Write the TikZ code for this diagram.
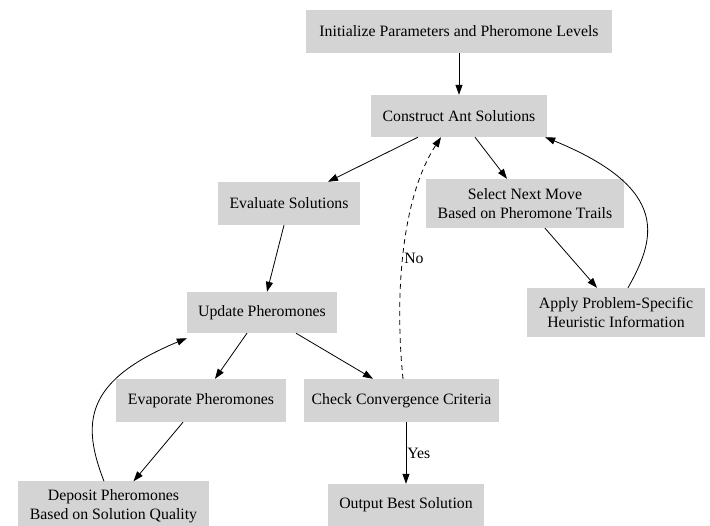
\documentclass[tikz,border=0pt]{standalone}
\usepackage{fontspec}
\setmainfont{Liberation Serif}
\usetikzlibrary{arrows.meta}
\begin{document}
\begin{tikzpicture}[x=1pt,y=-1pt,
  box/.style={fill=black!17, draw=none, inner sep=0pt, align=center,
    font=\fontsize{15.8}{19}\selectfont},
  edge/.style={draw=black, line width=0.8pt, -{Triangle[length=10pt,width=7pt]}},
  lbl/.style={font=\fontsize{15.8}{19}\selectfont, inner sep=1pt, anchor=west}]
\useasboundingbox (0,0) rectangle (710,526);
\clip (0,0) rectangle (710,526);
\node[box, minimum width=306pt, minimum height=43pt] (init) at (459,31.5) {Initialize Parameters and Pheromone Levels};
\node[box, minimum width=176pt, minimum height=42pt] (construct) at (459,116) {Construct Ant Solutions};
\node[box, minimum width=142pt, minimum height=43pt] (eval) at (289,203.5) {Evaluate Solutions};
\node[box, minimum width=198pt, minimum height=49pt] (select) at (525,203.5) {Select Next Move\\Based on Pheromone Trails};
\node[box, minimum width=178pt, minimum height=49pt] (apply) at (616,312.5) {Apply Problem-Specific\\Heuristic Information};
\node[box, minimum width=150pt, minimum height=41pt] (update) at (262,312.5) {Update Pheromones};
\node[box, minimum width=170pt, minimum height=43pt] (evap) at (201,400.5) {Evaporate Pheromones};
\node[box, minimum width=195pt, minimum height=43pt] (check) at (401.5,400.5) {Check Convergence Criteria};
\node[box, minimum width=191pt, minimum height=49pt] (deposit) at (113.5,506) {Deposit Pheromones\\Based on Solution Quality};
\node[box, minimum width=156pt, minimum height=42pt] (output) at (406,505) {Output Best Solution};

\draw[edge] (init) -- (construct);
\draw[edge] ([xshift=-41pt]construct.south) -- ([xshift=39pt]eval.north);
\draw[edge] ([xshift=16pt]construct.south) -- ([xshift=-18pt]select.north);
\draw[edge] ([xshift=20pt]select.south) -- ([xshift=-19pt]apply.north);
\draw[edge] ([xshift=12pt]apply.north) .. controls +(27,-48) and +(127,52) .. ([xshift=-2pt]construct.south east);
\draw[edge] ([xshift=-5pt]eval.south) -- ([xshift=5pt]update.north);
\draw[edge] ([xshift=-15pt]update.south) -- ([xshift=14pt]evap.north);
\draw[edge] ([xshift=34pt]update.south) -- ([xshift=-28.5pt]check.north);
\draw[edge] ([xshift=-18pt]evap.south) -- ([xshift=20pt]deposit.north);
\draw[edge] ([xshift=-9.5pt]deposit.north) .. controls +(-22,-57) and +(-104,43) .. ([yshift=-5pt]update.south west);
\draw[edge, dash pattern=on 5pt off 4pt] ([xshift=1.5pt]check.north) .. controls +(-8,-78) and +(-41,63) .. ([xshift=-18pt]construct.south)
  node[lbl, pos=0.475] (no) {No};
\draw[edge] ([xshift=4.5pt]check.south) -- (output.north) node[lbl, midway] (yes) {Yes};
\end{tikzpicture}
\end{document}
